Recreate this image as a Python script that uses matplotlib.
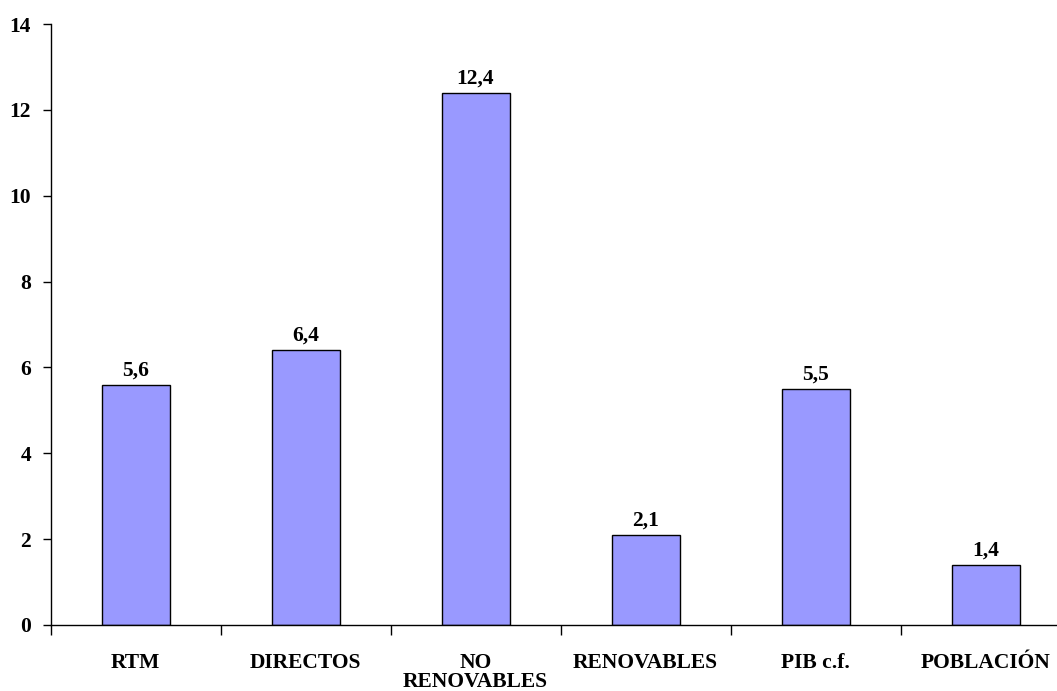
import matplotlib
matplotlib.use("Agg")
import matplotlib.pyplot as plt

CATEGORIES = ["RTM", "DIRECTOS", "NO\nRENOVABLES", "RENOVABLES", "PIB c.f.", "POBLACIÓN"]
VALUES = [5.6, 6.4, 12.4, 2.1, 5.5, 1.4]
Y_TICKS = [0, 2, 4, 6, 8, 10, 12, 14]

BAR_COLOR = "#9999FF"
FS = 15.5


def main():
    plt.rcParams["font.family"] = ["Liberation Serif", "DejaVu Serif"]
    plt.rcParams["font.weight"] = "bold"

    W, H = 1057, 691
    fig = plt.figure(figsize=(W / 100, H / 100), dpi=100, facecolor="white")
    # axis runs past the right edge of the picture, like the original
    ax = fig.add_axes([50.5 / W, 66 / H, 1020 / W, 601 / H])

    x = list(range(len(CATEGORIES)))
    ax.bar(x, VALUES, width=0.4, color=BAR_COLOR, edgecolor="black", linewidth=1.0)

    for xi, v in zip(x, VALUES):
        ax.annotate(f"{v:.1f}".replace(".", ","), (xi, v),
                    xytext=(0, 3), textcoords="offset points",
                    ha="center", va="bottom", fontsize=FS, fontweight="bold")

    ax.set_xlim(-0.5, len(CATEGORIES) - 0.5)
    ax.set_ylim(0, 14)
    ax.set_yticks(Y_TICKS)
    ax.set_yticklabels([str(t) for t in Y_TICKS], fontsize=FS, fontweight="bold")

    ax.set_xticks([i - 0.5 for i in range(len(CATEGORIES) + 1)])
    ax.set_xticklabels([])
    ax.set_xticks(x, minor=True)
    ax.set_xticklabels(CATEGORIES, minor=True, fontsize=FS, fontweight="bold",
                       linespacing=0.95)
    ax.tick_params(axis="x", which="minor", length=0, pad=20)
    ax.tick_params(axis="x", which="major", length=7, width=1, direction="out")
    ax.tick_params(axis="y", length=6, width=1, direction="out", pad=8)

    for side in ("top", "right"):
        ax.spines[side].set_visible(False)
    for side in ("left", "bottom"):
        ax.spines[side].set_linewidth(1.0)

    fig.savefig("out.png", dpi=100, facecolor="white")


if __name__ == "__main__":
    main()
